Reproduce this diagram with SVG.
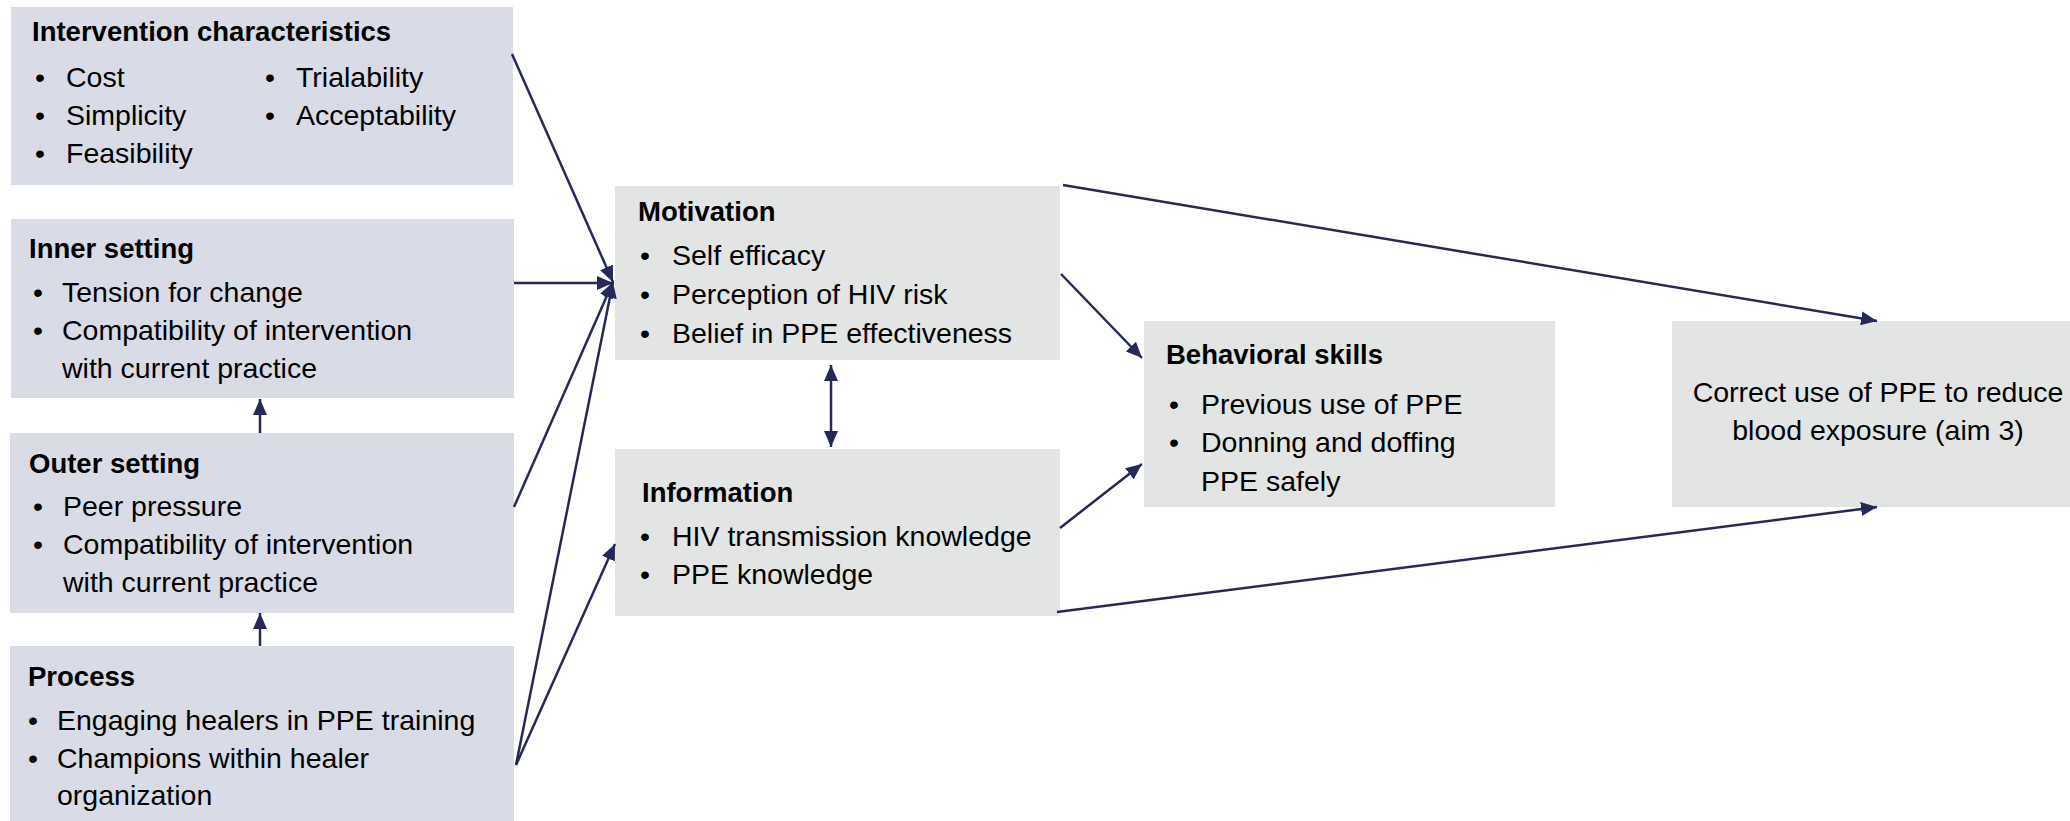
<svg xmlns="http://www.w3.org/2000/svg" width="2070" height="821" viewBox="0 0 2070 821">
  <style>
    .cfir { fill: #D9DBE6; }
    .imb { fill: #E3E4E4; }
    text { font-family: "Liberation Sans", Arial, sans-serif; fill: #000; }
    .title { font-size: 27.5px; font-weight: bold; }
    .item { font-size: 28.5px; }
    .dot { font-size: 28.5px; text-anchor: middle; }
    .center { text-anchor: middle; }
    .link { stroke: #262958; stroke-width: 2.5; fill: none; marker-end: url(#head); }
  </style>
  <defs>
    <marker id="head" markerUnits="userSpaceOnUse" markerWidth="16" markerHeight="14" refX="16" refY="7" orient="auto-start-reverse">
      <path d="M0,0 L16,7 L0,14 z" fill="#262958"/>
    </marker>
  </defs>

  <rect width="2070" height="821" fill="#FFFFFF"/>

  <!-- CFIR domains -->
  <g id="intervention-characteristics">
    <rect class="cfir" x="11" y="7" width="502" height="178"/>
    <text class="title" x="32" y="41">Intervention characteristics</text>
    <text class="dot" x="40" y="87">•</text>
    <text class="item" x="66" y="87">Cost</text>
    <text class="dot" x="40" y="125">•</text>
    <text class="item" x="66" y="125">Simplicity</text>
    <text class="dot" x="40" y="163">•</text>
    <text class="item" x="66" y="163">Feasibility</text>
    <text class="dot" x="270" y="87">•</text>
    <text class="item" x="296" y="87">Trialability</text>
    <text class="dot" x="270" y="125">•</text>
    <text class="item" x="296" y="125">Acceptability</text>
  </g>

  <g id="inner-setting">
    <rect class="cfir" x="11" y="219" width="503" height="179"/>
    <text class="title" x="29" y="258">Inner setting</text>
    <text class="dot" x="38" y="302">•</text>
    <text class="item" x="62" y="302">Tension for change</text>
    <text class="dot" x="38" y="340">•</text>
    <text class="item" x="62" y="340">Compatibility of intervention</text>
    <text class="item" x="62" y="378">with current practice</text>
  </g>

  <g id="outer-setting">
    <rect class="cfir" x="10" y="433" width="504" height="180"/>
    <text class="title" x="29" y="473">Outer setting</text>
    <text class="dot" x="38" y="516">•</text>
    <text class="item" x="63" y="516">Peer pressure</text>
    <text class="dot" x="38" y="554">•</text>
    <text class="item" x="63" y="554">Compatibility of intervention</text>
    <text class="item" x="63" y="592">with current practice</text>
  </g>

  <g id="process">
    <rect class="cfir" x="10" y="646" width="504" height="175"/>
    <text class="title" x="28" y="686">Process</text>
    <text class="dot" x="33" y="730">•</text>
    <text class="item" x="57" y="730">Engaging healers in PPE training</text>
    <text class="dot" x="33" y="768">•</text>
    <text class="item" x="57" y="768">Champions within healer</text>
    <text class="item" x="57" y="805">organization</text>
  </g>

  <!-- IMB model constructs -->
  <g id="motivation">
    <rect class="imb" x="615" y="186" width="445" height="174"/>
    <text class="title" x="638" y="221">Motivation</text>
    <text class="dot" x="645" y="265">•</text>
    <text class="item" x="672" y="265">Self efficacy</text>
    <text class="dot" x="645" y="304">•</text>
    <text class="item" x="672" y="304">Perception of HIV risk</text>
    <text class="dot" x="645" y="343">•</text>
    <text class="item" x="672" y="343">Belief in PPE effectiveness</text>
  </g>

  <g id="information">
    <rect class="imb" x="615" y="449" width="445" height="167"/>
    <text class="title" x="642" y="502">Information</text>
    <text class="dot" x="645" y="546">•</text>
    <text class="item" x="672" y="546">HIV transmission knowledge</text>
    <text class="dot" x="645" y="584">•</text>
    <text class="item" x="672" y="584">PPE knowledge</text>
  </g>

  <g id="behavioral-skills">
    <rect class="imb" x="1144" y="321" width="411" height="186"/>
    <text class="title" x="1166" y="364">Behavioral skills</text>
    <text class="dot" x="1174" y="414">•</text>
    <text class="item" x="1201" y="414">Previous use of PPE</text>
    <text class="dot" x="1174" y="452">•</text>
    <text class="item" x="1201" y="452">Donning and doffing</text>
    <text class="item" x="1201" y="491">PPE safely</text>
  </g>

  <g id="outcome">
    <rect class="imb" x="1672" y="321" width="398" height="186"/>
    <text class="item center" x="1878" y="402">Correct use of PPE to reduce</text>
    <text class="item center" x="1878" y="440">blood exposure (aim 3)</text>
  </g>

  <!-- connectors -->
  <g id="connectors">
    <line class="link" x1="260" y1="433" x2="260" y2="399"/>
    <line class="link" x1="260" y1="646" x2="260" y2="613"/>
    <line class="link" x1="512" y1="54" x2="613" y2="282"/>
    <line class="link" x1="514" y1="283" x2="613" y2="283"/>
    <line class="link" x1="514" y1="507" x2="613" y2="282"/>
    <line class="link" x1="516" y1="765" x2="613" y2="282"/>
    <line class="link" x1="516" y1="765" x2="615" y2="544"/>
    <line class="link" x1="831" y1="365" x2="831" y2="447" style="marker-start: url(#head);"/>
    <line class="link" x1="1061" y1="274" x2="1142" y2="358"/>
    <line class="link" x1="1060" y1="528" x2="1142" y2="464"/>
    <line class="link" x1="1063" y1="185" x2="1877" y2="321"/>
    <line class="link" x1="1057" y1="612" x2="1877" y2="507"/>
  </g>
</svg>
